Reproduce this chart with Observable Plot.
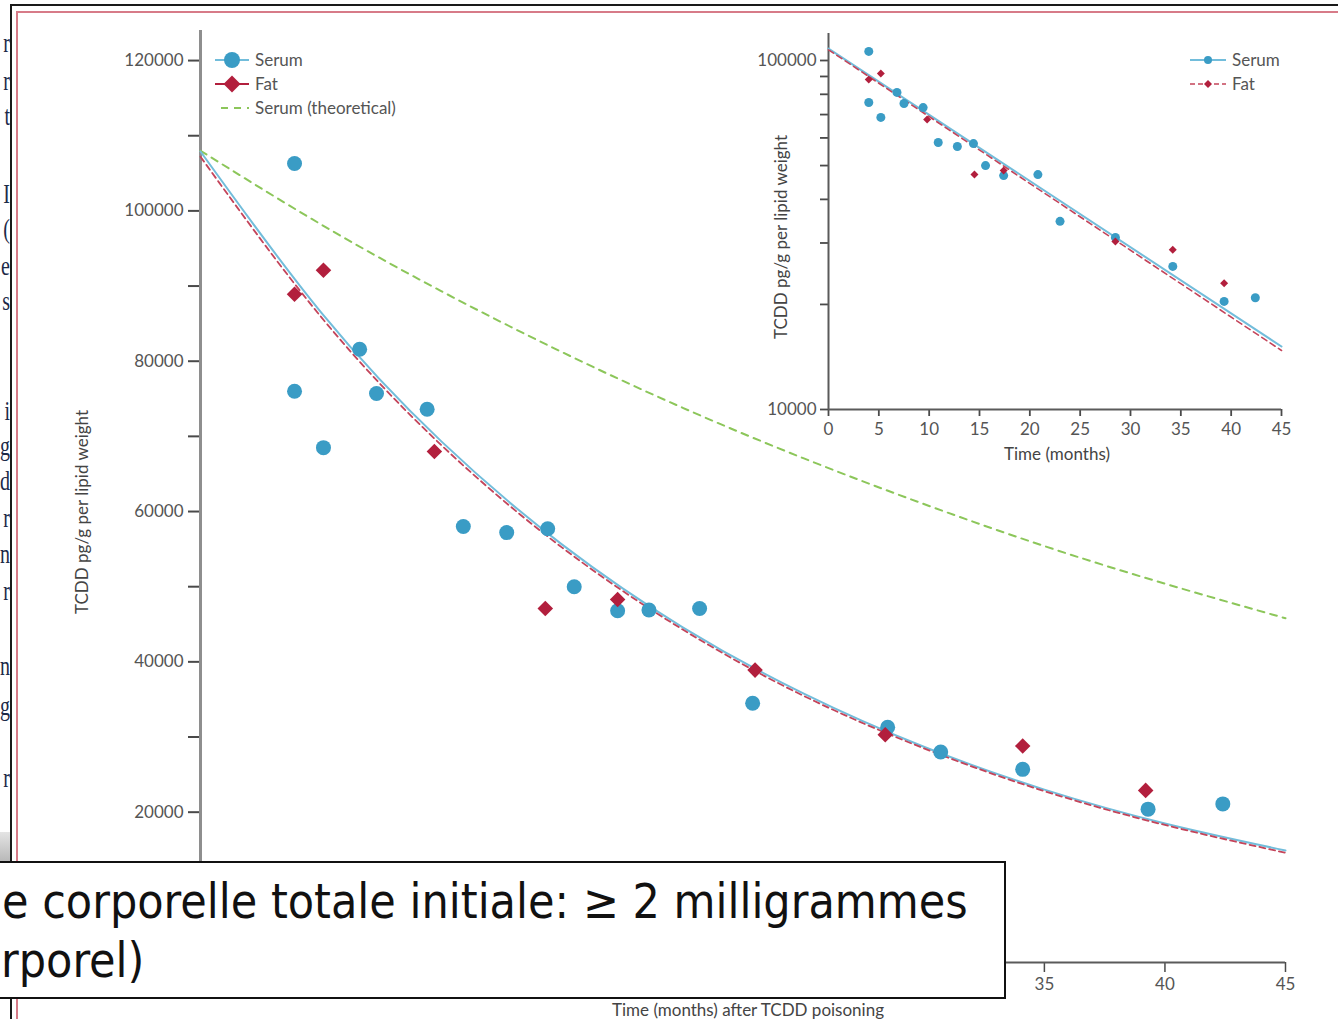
<!DOCTYPE html>
<html>
<head>
<meta charset="utf-8">
<script src="https://cdn.jsdelivr.net/npm/d3@7"></script>
<script src="https://cdn.jsdelivr.net/npm/@observablehq/plot@0.6"></script>
<style>
  html, body { margin: 0; padding: 0; background: #fff; }
  #page { position: relative; width: 1338px; height: 1019px; overflow: hidden; background: #fff; font-family: Lato, sans-serif; }
  #page > svg { position: absolute; }
  .frag { position: absolute; right: 0px; font-family: "Liberation Serif", serif; font-size: 20px; color: #1d2a48; line-height: 20px; white-space: nowrap; transform: scaleY(1.4); transform-origin: right center; }
  .boxline { position: absolute; height: 59px; line-height: 59px; font-family: "DejaVu Sans Condensed", "DejaVu Sans", sans-serif; font-stretch: condensed; color: #111; white-space: nowrap; }
</style>
</head>
<body>
<div id="page"></div>
<script>
// ---------------- data ----------------
// main (linear) chart
const serumMonths = [3.9, 3.9, 5.1, 6.6, 7.3, 9.4, 10.9, 12.7, 14.4, 15.5, 17.3, 18.6, 20.7, 22.9, 28.5, 30.7, 34.1, 39.3, 42.4];
const serumConc   = [106300, 76000, 68500, 81600, 75700, 73600, 58000, 57200, 57700, 50000, 46800, 46900, 47100, 34500, 31300, 28000, 25700, 20400, 21100];
const fatMonths   = [3.9, 5.1, 9.7, 14.3, 17.3, 23.0, 28.4, 34.1, 39.2];
const fatConc     = [88900, 92100, 68000, 47100, 48300, 38900, 30300, 28800, 22900];
const fitMonths      = [0, 5, 10, 15, 20, 25, 30, 35, 40, 45];
const serumFitConc   = [107900, 86500, 69300, 55600, 44600, 35800, 28700, 23000, 18500, 14900];
const fatFitConc     = [107200, 85900, 68800, 55200, 44300, 35500, 28500, 22800, 18300, 14600];
const theoryFitConc  = [108000, 98200, 89300, 81200, 73800, 67100, 61000, 55400, 50400, 45800];

// inset (log) chart
const insetSerumMonths = [4.0, 4.0, 5.2, 6.8, 7.5, 9.4, 10.9, 12.8, 14.4, 15.6, 17.4, 20.8, 23.0, 28.5, 34.2, 39.3, 42.4];
const insetSerumConc   = [106200, 75800, 68700, 81000, 75300, 73300, 58200, 56700, 57800, 50000, 46800, 47100, 34600, 31100, 25700, 20400, 20900];
const insetFatMonths   = [4.0, 5.2, 9.8, 14.5, 17.4, 28.5, 34.2, 39.3];
const insetFatConc     = [88200, 91800, 67800, 47100, 48400, 30300, 28700, 23000];
const insetFitMonths   = [0, 45];
const insetSerumFit    = [108200, 15150];
const insetFatFit      = [107300, 14760];

// ticks
const mainYLabelTicks = [20000, 40000, 60000, 80000, 100000, 120000];
const mainYMinorTicks = [10000, 30000, 50000, 70000, 90000, 110000];
const mainXTicks      = [0, 5, 10, 15, 20, 25, 30, 35, 40, 45];
const insetYLabelTicks = [10000, 100000];
const insetYMinorTicks = [20000, 30000, 40000, 50000, 60000, 70000, 80000, 90000];
const insetXTicks      = [0, 5, 10, 15, 20, 25, 30, 35, 40, 45];

// texts
const mainLegendLabels  = ["Serum", "Fat", "Serum (theoretical)"];
const insetLegendLabels = ["Serum", "Fat"];
const yTitle = "TCDD pg/g per lipid weight";
const mainXTitle = "Time (months) after TCDD poisoning";
const insetXTitle = "Time (months)";
const boxLines = ["e corporelle totale initiale: \u2265 2 milligrammes", "rporel)"];
const leftFragments = [["r", 42], ["r", 80], ["t", 115], ["I", 193], ["(", 228], ["e", 265], ["s", 300],
                       ["i", 410], ["g", 445], ["d", 480], ["r", 517], ["n", 553], ["r", 590], ["n", 665], ["g", 705], ["r", 777]];

// colours
const serumColor = "#3a9cc5";
const serumLine  = "#72bddb";
const fatColor   = "#b21f3d";
const fatLine    = "#c4445a";
const theoryColor = "#8cc65a";
const axisGray = "#8e8e8e";
const tickColor = "#4a4a4a";
const textColor = "#555";

// ---------------- build tables ----------------
const serum = serumMonths.map((m, i) => ({month: m, conc: serumConc[i]}));
const fat = fatMonths.map((m, i) => ({month: m, conc: fatConc[i]}));
const serumFit = fitMonths.map((m, i) => ({month: m, conc: serumFitConc[i]}));
const fatFit = fitMonths.map((m, i) => ({month: m, conc: fatFitConc[i]}));
const theoryFit = fitMonths.map((m, i) => ({month: m, conc: theoryFitConc[i]}));
const iSerum = insetSerumMonths.map((m, i) => ({month: m, conc: insetSerumConc[i]}));
const iFat = insetFatMonths.map((m, i) => ({month: m, conc: insetFatConc[i]}));
const iSerumFit = insetFitMonths.map((m, i) => ({month: m, conc: insetSerumFit[i]}));
const iFatFit = insetFitMonths.map((m, i) => ({month: m, conc: insetFatFit[i]}));

const page = document.getElementById("page");
const fmt = d3.format("d");

// ---------------- main chart ----------------
const main = Plot.plot({
  width: 1338, height: 1019,
  marginLeft: 200, marginRight: 53, marginTop: 30, marginBottom: 57,
  x: {domain: [0, 45]},
  y: {domain: [0, 124000]},
  style: {fontFamily: "Lato, sans-serif", fontSize: "17px", color: textColor, background: "transparent", overflow: "visible"},
  marks: [
    Plot.axisY(mainYMinorTicks, {tickSize: 12, tickFormat: () => "", stroke: tickColor, strokeWidth: 2, label: null}),
    Plot.axisY(mainYLabelTicks, {tickSize: 12, tickPadding: 5, tickFormat: fmt, stroke: tickColor, strokeWidth: 2, fill: textColor, label: null}),
    Plot.axisX(mainXTicks, {tickSize: 10, tickPadding: 5, tickFormat: fmt, stroke: tickColor, strokeWidth: 1.5, fill: textColor, label: null}),
    Plot.ruleX([0], {stroke: axisGray, strokeWidth: 3}),
    Plot.ruleY([0], {stroke: "#5a5a5a", strokeWidth: 2}),
    Plot.line(theoryFit, {x: "month", y: "conc", stroke: theoryColor, strokeWidth: 2, strokeDasharray: "7,6", curve: "natural"}),
    Plot.line(serumFit, {x: "month", y: "conc", stroke: serumLine, strokeWidth: 2, curve: "natural"}),
    Plot.line(fatFit, {x: "month", y: "conc", stroke: fatLine, strokeWidth: 1.8, strokeDasharray: "6,4", curve: "natural"}),
    Plot.dot(serum, {x: "month", y: "conc", r: 7.5, fill: serumColor}),
    Plot.dot(fat, {x: "month", y: "conc", r: 7, symbol: "diamond2", fill: fatColor})
  ]
});
main.style.left = "0px"; main.style.top = "0px";
page.appendChild(main);

// ---------------- inset chart ----------------
const inset = Plot.plot({
  width: 560, height: 460,
  marginLeft: 88, marginRight: 19, marginTop: 13, marginBottom: 71,
  x: {domain: [0, 45]},
  y: {type: "log", domain: [10000, 119500]},
  style: {fontFamily: "Lato, sans-serif", fontSize: "17px", color: textColor, background: "transparent", overflow: "visible"},
  marks: [
    Plot.axisY(insetYMinorTicks, {tickSize: 8, tickFormat: () => "", stroke: tickColor, strokeWidth: 1.8, label: null}),
    Plot.axisY(insetYLabelTicks, {tickSize: 8, tickPadding: 4, tickFormat: fmt, stroke: tickColor, strokeWidth: 1.8, fill: textColor, label: null}),
    Plot.axisX(insetXTicks, {tickSize: 7, tickPadding: 6, tickFormat: fmt, stroke: tickColor, strokeWidth: 1.8, fill: textColor, label: null}),
    Plot.ruleX([0], {stroke: "#5a5a5a", strokeWidth: 2}),
    Plot.ruleY([10000], {stroke: "#5a5a5a", strokeWidth: 2}),
    Plot.line(iSerumFit, {x: "month", y: "conc", stroke: serumLine, strokeWidth: 2}),
    Plot.line(iFatFit, {x: "month", y: "conc", stroke: fatLine, strokeWidth: 1.6, strokeDasharray: "6,4"}),
    Plot.dot(iSerum, {x: "month", y: "conc", r: 4.5, fill: serumColor}),
    Plot.dot(iFat, {x: "month", y: "conc", r: 3.6, symbol: "diamond2", fill: fatColor})
  ]
});
inset.style.left = "740px"; inset.style.top = "20px";
page.appendChild(inset);

// ---------------- legends (overlay) ----------------
const ov = d3.select(page).append("svg")
  .attr("width", 1338).attr("height", 1019)
  .style("left", "0px").style("top", "0px")
  .style("font-family", "Lato, sans-serif").style("font-size", "17px");

function diamond(r) { return `M0,${-r}L${r},0L0,${r}L${-r},0Z`; }

// main legend
const mainLeg = ov.append("g").attr("transform", "translate(0,60)");
mainLegendLabels.forEach((lab, i) => {
  const g = mainLeg.append("g").attr("transform", `translate(0,${i * 24})`);
  if (i === 0) {
    g.append("line").attr("x1", 215).attr("x2", 249).attr("stroke", serumLine).attr("stroke-width", 2);
    g.append("circle").attr("cx", 232).attr("r", 8).attr("fill", serumColor);
  } else if (i === 1) {
    g.append("line").attr("x1", 215).attr("x2", 249).attr("stroke", fatColor).attr("stroke-width", 2);
    g.append("path").attr("d", diamond(8.5)).attr("transform", "translate(232,0)").attr("fill", fatColor);
  } else {
    g.append("line").attr("x1", 221).attr("x2", 249).attr("stroke", theoryColor).attr("stroke-width", 2).attr("stroke-dasharray", "7,6");
  }
  g.append("text").attr("x", 255).attr("dy", "0.35em").attr("fill", textColor).text(lab);
});

// inset legend
const insLeg = ov.append("g").attr("transform", "translate(0,60)");
insetLegendLabels.forEach((lab, i) => {
  const g = insLeg.append("g").attr("transform", `translate(0,${i * 24})`);
  if (i === 0) {
    g.append("line").attr("x1", 1190).attr("x2", 1226).attr("stroke", serumLine).attr("stroke-width", 2);
    g.append("circle").attr("cx", 1208).attr("r", 4).attr("fill", serumColor);
  } else {
    g.append("line").attr("x1", 1190).attr("x2", 1226).attr("stroke", fatLine).attr("stroke-width", 1.6).attr("stroke-dasharray", "5,3");
    g.append("path").attr("d", diamond(4)).attr("transform", "translate(1208,0)").attr("fill", fatColor);
  }
  g.append("text").attr("x", 1232).attr("dy", "0.35em").attr("fill", textColor).text(lab);
});

// axis titles
ov.append("text").attr("transform", "translate(82,512) rotate(-90)").attr("text-anchor", "middle").attr("dy", "0.35em").attr("fill", "#444").text(yTitle);
ov.append("text").attr("transform", "translate(781,237) rotate(-90)").attr("text-anchor", "middle").attr("dy", "0.35em").attr("fill", "#444").text(yTitle);
ov.append("text").attr("x", 1057).attr("y", 454).attr("text-anchor", "middle").attr("dy", "0.35em").attr("fill", "#444").text(insetXTitle);
ov.append("text").attr("x", 748).attr("y", 1010).attr("text-anchor", "middle").attr("dy", "0.35em").attr("fill", "#444").text(mainXTitle);

// ---------------- frames ----------------
const black = document.createElement("div");
Object.assign(black.style, {position: "absolute", left: "10px", top: "4px", width: "1400px", height: "1100px",
  borderTop: "2px solid #1a1a1a", borderLeft: "2px solid #1a1a1a"});
page.appendChild(black);
const red = document.createElement("div");
Object.assign(red.style, {position: "absolute", left: "16px", top: "11px", width: "1400px", height: "1100px",
  borderTop: "2px solid #d77b88", borderLeft: "2px solid #d77b88"});
page.appendChild(red);

// left strip with fragments of another window
const strip = document.createElement("div");
Object.assign(strip.style, {position: "absolute", left: "0px", top: "0px", width: "10px", height: "1019px", background: "#fff"});
leftFragments.forEach(([t, y]) => {
  const s = document.createElement("div");
  s.className = "frag";
  s.textContent = t;
  s.style.top = (y - 10) + "px";
  strip.appendChild(s);
});
const grayBar = document.createElement("div");
Object.assign(grayBar.style, {position: "absolute", left: "0px", top: "832px", width: "10px", height: "29px",
  background: "linear-gradient(#e4e4e4, #b9b9b9)"});
strip.appendChild(grayBar);
page.appendChild(strip);

// ---------------- text box overlay ----------------
const box = document.createElement("div");
Object.assign(box.style, {position: "absolute", left: "-10px", top: "861px", width: "1012px", height: "134px",
  border: "2px solid #111", background: "#fff", boxSizing: "content-box"});
page.appendChild(box);

const boxFont = '"DejaVu Sans Condensed", "DejaVu Sans", sans-serif';
const ctx = document.createElement("canvas").getContext("2d");
ctx.font = `condensed 40px ${boxFont}`;
const w0 = ctx.measureText(boxLines[0]).width;
const fs = Math.max(34, Math.min(48, 40 * 966 / w0));
const lineLeft = [2, 1];
const lineTop = [872, 931];
boxLines.forEach((t, i) => {
  const d = document.createElement("div");
  d.className = "boxline";
  d.style.fontSize = fs + "px";
  d.style.left = lineLeft[i] + "px";
  d.style.top = lineTop[i] + "px";
  d.textContent = t;
  page.appendChild(d);
});
</script>
</body>
</html>
